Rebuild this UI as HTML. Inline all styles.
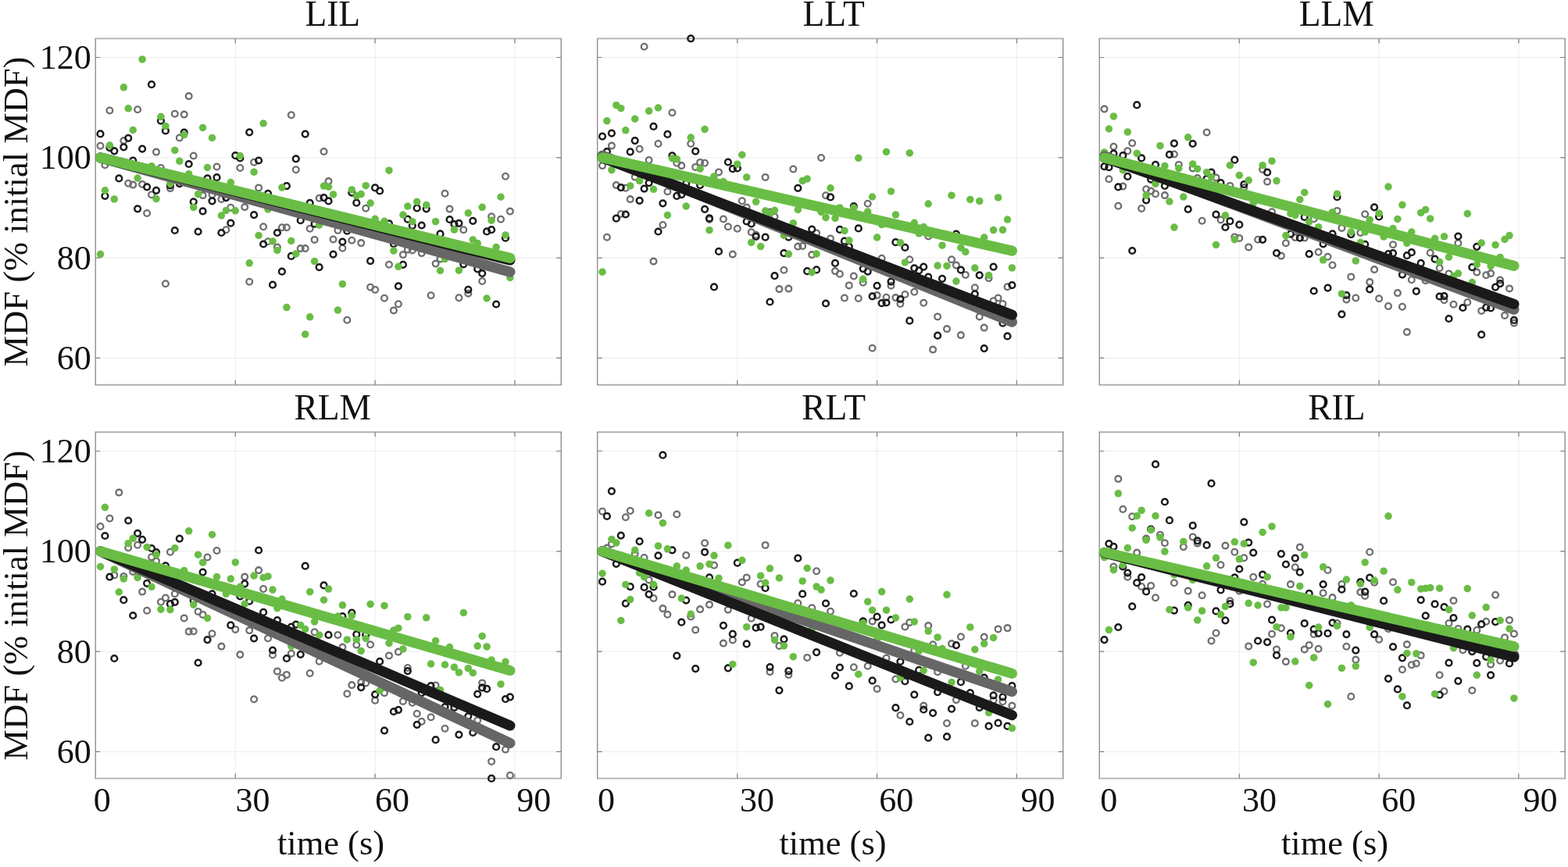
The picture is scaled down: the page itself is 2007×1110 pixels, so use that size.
<!DOCTYPE html>
<html lang="en"><head><meta charset="utf-8"><title>MDF vs time</title>
<style>html,body{margin:0;padding:0;background:#fff;overflow:hidden}svg{display:block}text{font-family:"Liberation Serif", serif;fill:#111}.t{font-size:44px}.l{font-size:44.5px}.h{font-size:45.5px}.axh{fill:none;stroke:#b0b0b0;stroke-width:1.9}.axv{fill:none;stroke:#7e7e7e;stroke-width:1.2}.g{stroke:#ececec;stroke-width:1}.k{stroke:#7e7e7e;stroke-width:1.2}.o1{fill:none;stroke:#1a1a1a;stroke-width:2.5}.o2{fill:none;stroke:#6e6e6e;stroke-width:2.3}.d{fill:#69bd45}.ln{fill:none;stroke-width:13.2;stroke-linecap:round}</style></head><body>
<svg width="2007" height="1110" viewBox="0 0 2007 1110">
<rect width="2007" height="1110" fill="#fff"/>
<g transform="translate(122.2,49.4)">
<path class="g" d="M179.1 0V443.3M357.9 0V443.3M536.7 0V443.3M0 24.1H596M0 152.4H596M0 280.7H596M0 409H596"/>
<path class="axh" d="M-0.7 0H596.7M-0.7 443.3H596.7"/>
<path class="axv" d="M0 0V443.3M596 0V443.3"/>
<path class="k" d="M179.1 0v6M179.1 443.3v-6M357.9 0v6M357.9 443.3v-6M536.7 0v6M536.7 443.3v-6M0 24.1h6M596 24.1h-6M0 152.4h6M596 152.4h-6M0 280.7h6M596 280.7h-6M0 409h6M596 409h-6"/>
<g class="o2">
<circle cx="6.3" cy="137.4" r="3.85"/>
<circle cx="12.2" cy="161.8" r="3.85"/>
<circle cx="18.2" cy="92.1" r="3.85"/>
<circle cx="36.1" cy="130.7" r="3.85"/>
<circle cx="42" cy="185.3" r="3.85"/>
<circle cx="48" cy="187.2" r="3.85"/>
<circle cx="53.9" cy="90.8" r="3.85"/>
<circle cx="59.9" cy="186.5" r="3.85"/>
<circle cx="65.9" cy="223.6" r="3.85"/>
<circle cx="71.8" cy="199.9" r="3.85"/>
<circle cx="77.8" cy="145.2" r="3.85"/>
<circle cx="83.7" cy="165.6" r="3.85"/>
<circle cx="89.7" cy="313.8" r="3.85"/>
<circle cx="95.7" cy="191.7" r="3.85"/>
<circle cx="101.6" cy="96.3" r="3.85"/>
<circle cx="107.6" cy="127.1" r="3.85"/>
<circle cx="113.5" cy="97.2" r="3.85"/>
<circle cx="119.5" cy="73.7" r="3.85"/>
<circle cx="125.5" cy="150.1" r="3.85"/>
<circle cx="137.4" cy="200.7" r="3.85"/>
<circle cx="149.3" cy="199.9" r="3.85"/>
<circle cx="155.3" cy="164.1" r="3.85"/>
<circle cx="161.2" cy="205.6" r="3.85"/>
<circle cx="167.2" cy="244.8" r="3.85"/>
<circle cx="173.1" cy="216.4" r="3.85"/>
<circle cx="185.1" cy="165.6" r="3.85"/>
<circle cx="191" cy="215.7" r="3.85"/>
<circle cx="197" cy="311.3" r="3.85"/>
<circle cx="202.9" cy="158.4" r="3.85"/>
<circle cx="208.9" cy="191" r="3.85"/>
<circle cx="214.9" cy="240.8" r="3.85"/>
<circle cx="220.8" cy="259.8" r="3.85"/>
<circle cx="232.7" cy="267.2" r="3.85"/>
<circle cx="238.7" cy="241.8" r="3.85"/>
<circle cx="244.7" cy="241.8" r="3.85"/>
<circle cx="250.6" cy="97.8" r="3.85"/>
<circle cx="256.6" cy="167.8" r="3.85"/>
<circle cx="262.5" cy="268.7" r="3.85"/>
<circle cx="268.5" cy="268.7" r="3.85"/>
<circle cx="274.5" cy="243.3" r="3.85"/>
<circle cx="280.4" cy="257.5" r="3.85"/>
<circle cx="286.4" cy="204.4" r="3.85"/>
<circle cx="292.3" cy="144.6" r="3.85"/>
<circle cx="298.3" cy="182.7" r="3.85"/>
<circle cx="304.3" cy="257.1" r="3.85"/>
<circle cx="310.2" cy="245.6" r="3.85"/>
<circle cx="316.2" cy="268.3" r="3.85"/>
<circle cx="322.1" cy="360.3" r="3.85"/>
<circle cx="328.1" cy="258.3" r="3.85"/>
<circle cx="340" cy="261.7" r="3.85"/>
<circle cx="346" cy="217.4" r="3.85"/>
<circle cx="351.9" cy="318.4" r="3.85"/>
<circle cx="357.9" cy="321.5" r="3.85"/>
<circle cx="369.8" cy="332.3" r="3.85"/>
<circle cx="375.8" cy="289.4" r="3.85"/>
<circle cx="381.7" cy="348" r="3.85"/>
<circle cx="387.7" cy="339.8" r="3.85"/>
<circle cx="393.7" cy="276.7" r="3.85"/>
<circle cx="399.6" cy="270.2" r="3.85"/>
<circle cx="405.6" cy="271" r="3.85"/>
<circle cx="417.5" cy="274.7" r="3.85"/>
<circle cx="429.4" cy="328.9" r="3.85"/>
<circle cx="435.4" cy="288.2" r="3.85"/>
<circle cx="441.3" cy="282.2" r="3.85"/>
<circle cx="447.3" cy="198.4" r="3.85"/>
<circle cx="453.3" cy="218.2" r="3.85"/>
<circle cx="465.2" cy="331.8" r="3.85"/>
<circle cx="471.1" cy="244.8" r="3.85"/>
<circle cx="477.1" cy="326.3" r="3.85"/>
<circle cx="495" cy="310.6" r="3.85"/>
<circle cx="506.9" cy="227.9" r="3.85"/>
<circle cx="518.8" cy="231.3" r="3.85"/>
<circle cx="524.8" cy="176.3" r="3.85"/>
<circle cx="530.7" cy="221.2" r="3.85"/>
</g>
<g class="o1">
<circle cx="6.3" cy="122" r="3.85"/>
<circle cx="12.2" cy="201.4" r="3.85"/>
<circle cx="18.2" cy="139.7" r="3.85"/>
<circle cx="24.1" cy="143.9" r="3.85"/>
<circle cx="30.1" cy="179" r="3.85"/>
<circle cx="36.1" cy="138.9" r="3.85"/>
<circle cx="42" cy="127.4" r="3.85"/>
<circle cx="48" cy="156.1" r="3.85"/>
<circle cx="53.9" cy="217.9" r="3.85"/>
<circle cx="59.9" cy="141.2" r="3.85"/>
<circle cx="65.9" cy="189.9" r="3.85"/>
<circle cx="71.8" cy="58.8" r="3.85"/>
<circle cx="77.8" cy="194.4" r="3.85"/>
<circle cx="83.7" cy="105.3" r="3.85"/>
<circle cx="89.7" cy="118" r="3.85"/>
<circle cx="95.7" cy="188" r="3.85"/>
<circle cx="101.6" cy="245.6" r="3.85"/>
<circle cx="107.6" cy="185.7" r="3.85"/>
<circle cx="113.5" cy="120.2" r="3.85"/>
<circle cx="119.5" cy="160.6" r="3.85"/>
<circle cx="125.5" cy="208.9" r="3.85"/>
<circle cx="131.4" cy="247.1" r="3.85"/>
<circle cx="137.4" cy="220.9" r="3.85"/>
<circle cx="143.3" cy="179" r="3.85"/>
<circle cx="149.3" cy="207.9" r="3.85"/>
<circle cx="155.3" cy="177.8" r="3.85"/>
<circle cx="161.2" cy="248.6" r="3.85"/>
<circle cx="167.2" cy="203.7" r="3.85"/>
<circle cx="173.1" cy="236.3" r="3.85"/>
<circle cx="179.1" cy="149.8" r="3.85"/>
<circle cx="185.1" cy="153.1" r="3.85"/>
<circle cx="197" cy="119.9" r="3.85"/>
<circle cx="202.9" cy="225.7" r="3.85"/>
<circle cx="208.9" cy="156.1" r="3.85"/>
<circle cx="214.9" cy="263.1" r="3.85"/>
<circle cx="220.8" cy="198.5" r="3.85"/>
<circle cx="226.8" cy="315.3" r="3.85"/>
<circle cx="232.7" cy="248.6" r="3.85"/>
<circle cx="238.7" cy="298.3" r="3.85"/>
<circle cx="244.7" cy="188.7" r="3.85"/>
<circle cx="250.6" cy="278.5" r="3.85"/>
<circle cx="256.6" cy="153.9" r="3.85"/>
<circle cx="262.5" cy="232.8" r="3.85"/>
<circle cx="268.5" cy="122.2" r="3.85"/>
<circle cx="274.5" cy="210.4" r="3.85"/>
<circle cx="280.4" cy="237.3" r="3.85"/>
<circle cx="286.4" cy="292.7" r="3.85"/>
<circle cx="292.3" cy="203.7" r="3.85"/>
<circle cx="298.3" cy="208" r="3.85"/>
<circle cx="304.3" cy="276.2" r="3.85"/>
<circle cx="316.2" cy="260.1" r="3.85"/>
<circle cx="322.1" cy="246.3" r="3.85"/>
<circle cx="328.1" cy="197.2" r="3.85"/>
<circle cx="334.1" cy="210.3" r="3.85"/>
<circle cx="351.9" cy="284.7" r="3.85"/>
<circle cx="357.9" cy="191" r="3.85"/>
<circle cx="363.9" cy="195" r="3.85"/>
<circle cx="375.8" cy="236.9" r="3.85"/>
<circle cx="381.7" cy="262.8" r="3.85"/>
<circle cx="387.7" cy="316.9" r="3.85"/>
<circle cx="393.7" cy="289.4" r="3.85"/>
<circle cx="399.6" cy="231.3" r="3.85"/>
<circle cx="405.6" cy="239.6" r="3.85"/>
<circle cx="411.5" cy="217" r="3.85"/>
<circle cx="417.5" cy="239.1" r="3.85"/>
<circle cx="423.5" cy="217.9" r="3.85"/>
<circle cx="441.3" cy="250" r="3.85"/>
<circle cx="453.3" cy="231.6" r="3.85"/>
<circle cx="459.2" cy="237.6" r="3.85"/>
<circle cx="465.2" cy="236.4" r="3.85"/>
<circle cx="471.1" cy="288.9" r="3.85"/>
<circle cx="477.1" cy="321.4" r="3.85"/>
<circle cx="483.1" cy="233.4" r="3.85"/>
<circle cx="489" cy="294.9" r="3.85"/>
<circle cx="495" cy="300.6" r="3.85"/>
<circle cx="500.9" cy="247" r="3.85"/>
<circle cx="506.9" cy="244.8" r="3.85"/>
<circle cx="512.9" cy="340.1" r="3.85"/>
<circle cx="524.8" cy="255.3" r="3.85"/>
</g>
<g class="d">
<circle cx="6.3" cy="276.2" r="4.75"/>
<circle cx="12.2" cy="194.4" r="4.75"/>
<circle cx="18.2" cy="136.7" r="4.75"/>
<circle cx="24.1" cy="205.5" r="4.75"/>
<circle cx="36.1" cy="62.4" r="4.75"/>
<circle cx="42" cy="89.4" r="4.75"/>
<circle cx="48" cy="117.1" r="4.75"/>
<circle cx="53.9" cy="178.6" r="4.75"/>
<circle cx="59.9" cy="26.5" r="4.75"/>
<circle cx="71.8" cy="163.3" r="4.75"/>
<circle cx="77.8" cy="205.2" r="4.75"/>
<circle cx="83.7" cy="100" r="4.75"/>
<circle cx="89.7" cy="112" r="4.75"/>
<circle cx="95.7" cy="185.7" r="4.75"/>
<circle cx="101.6" cy="143" r="4.75"/>
<circle cx="107.6" cy="156.9" r="4.75"/>
<circle cx="113.5" cy="123.2" r="4.75"/>
<circle cx="119.5" cy="173.3" r="4.75"/>
<circle cx="125.5" cy="216" r="4.75"/>
<circle cx="131.4" cy="199.2" r="4.75"/>
<circle cx="137.4" cy="114" r="4.75"/>
<circle cx="143.3" cy="165.1" r="4.75"/>
<circle cx="149.3" cy="127.1" r="4.75"/>
<circle cx="161.2" cy="226.6" r="4.75"/>
<circle cx="167.2" cy="220.1" r="4.75"/>
<circle cx="173.1" cy="184.2" r="4.75"/>
<circle cx="179.1" cy="220.4" r="4.75"/>
<circle cx="185.1" cy="150.1" r="4.75"/>
<circle cx="197" cy="287.4" r="4.75"/>
<circle cx="202.9" cy="170.8" r="4.75"/>
<circle cx="208.9" cy="252" r="4.75"/>
<circle cx="214.9" cy="108.6" r="4.75"/>
<circle cx="220.8" cy="218.6" r="4.75"/>
<circle cx="226.8" cy="259.5" r="4.75"/>
<circle cx="232.7" cy="271" r="4.75"/>
<circle cx="238.7" cy="190.7" r="4.75"/>
<circle cx="244.7" cy="344.2" r="4.75"/>
<circle cx="250.6" cy="259" r="4.75"/>
<circle cx="256.6" cy="275.5" r="4.75"/>
<circle cx="268.5" cy="378.6" r="4.75"/>
<circle cx="274.5" cy="356.4" r="4.75"/>
<circle cx="280.4" cy="285.2" r="4.75"/>
<circle cx="286.4" cy="238.8" r="4.75"/>
<circle cx="292.3" cy="188.7" r="4.75"/>
<circle cx="298.3" cy="189.8" r="4.75"/>
<circle cx="304.3" cy="199.5" r="4.75"/>
<circle cx="310.2" cy="347.7" r="4.75"/>
<circle cx="316.2" cy="314.3" r="4.75"/>
<circle cx="328.1" cy="193.5" r="4.75"/>
<circle cx="334.1" cy="201.4" r="4.75"/>
<circle cx="340" cy="199.2" r="4.75"/>
<circle cx="346" cy="188.3" r="4.75"/>
<circle cx="351.9" cy="210.7" r="4.75"/>
<circle cx="357.9" cy="230.9" r="4.75"/>
<circle cx="369.8" cy="233.9" r="4.75"/>
<circle cx="375.8" cy="168.8" r="4.75"/>
<circle cx="381.7" cy="271.7" r="4.75"/>
<circle cx="387.7" cy="291.9" r="4.75"/>
<circle cx="393.7" cy="225.7" r="4.75"/>
<circle cx="399.6" cy="214.7" r="4.75"/>
<circle cx="405.6" cy="234.3" r="4.75"/>
<circle cx="411.5" cy="208.9" r="4.75"/>
<circle cx="423.5" cy="213.2" r="4.75"/>
<circle cx="435.4" cy="234.3" r="4.75"/>
<circle cx="441.3" cy="297.1" r="4.75"/>
<circle cx="447.3" cy="282.2" r="4.75"/>
<circle cx="459.2" cy="244.8" r="4.75"/>
<circle cx="465.2" cy="296.8" r="4.75"/>
<circle cx="477.1" cy="223.4" r="4.75"/>
<circle cx="483.1" cy="257.5" r="4.75"/>
<circle cx="489" cy="262" r="4.75"/>
<circle cx="495" cy="215.9" r="4.75"/>
<circle cx="500.9" cy="332.6" r="4.75"/>
<circle cx="506.9" cy="232.8" r="4.75"/>
<circle cx="512.9" cy="267.2" r="4.75"/>
<circle cx="518.8" cy="202.8" r="4.75"/>
<circle cx="524.8" cy="251.5" r="4.75"/>
<circle cx="530.7" cy="306.1" r="4.75"/>
</g>
<path class="ln" stroke="#666666" d="M6.3 152.4L530.7 298.7"/>
<path class="ln" stroke="#1a1a1a" d="M6.3 152.4L530.7 283.6"/>
<path class="ln" stroke="#69bd45" d="M6.3 152.4L530.7 281"/>
<text class="h" x="303.6" y="-16.9" text-anchor="middle">LIL</text>
<text class="t" x="-5.5" y="38.7" text-anchor="end">120</text>
<text class="t" x="-5.5" y="167" text-anchor="end">100</text>
<text class="t" x="-5.5" y="295.3" text-anchor="end">80</text>
<text class="t" x="-5.5" y="423.6" text-anchor="end">60</text>
<text class="l" transform="translate(-86.9,221.6) rotate(-90)" text-anchor="middle">MDF (% initial MDF)</text>
</g>
<g transform="translate(764.7,49.4)">
<path class="g" d="M179.1 0V443.3M357.9 0V443.3M536.7 0V443.3M0 24.1H596M0 152.4H596M0 280.7H596M0 409H596"/>
<path class="axh" d="M-0.7 0H596.7M-0.7 443.3H596.7"/>
<path class="axv" d="M0 0V443.3M596 0V443.3"/>
<path class="k" d="M179.1 0v6M179.1 443.3v-6M357.9 0v6M357.9 443.3v-6M536.7 0v6M536.7 443.3v-6M0 24.1h6M596 24.1h-6M0 152.4h6M596 152.4h-6M0 280.7h6M596 280.7h-6M0 409h6M596 409h-6"/>
<g class="o2">
<circle cx="6.3" cy="162.7" r="3.85"/>
<circle cx="12.2" cy="254.3" r="3.85"/>
<circle cx="18.2" cy="137.2" r="3.85"/>
<circle cx="24.1" cy="187.7" r="3.85"/>
<circle cx="30.1" cy="224.6" r="3.85"/>
<circle cx="36.1" cy="191.4" r="3.85"/>
<circle cx="42" cy="205.7" r="3.85"/>
<circle cx="48" cy="177.2" r="3.85"/>
<circle cx="53.9" cy="141.3" r="3.85"/>
<circle cx="59.9" cy="10.3" r="3.85"/>
<circle cx="65.9" cy="155.6" r="3.85"/>
<circle cx="71.8" cy="285.2" r="3.85"/>
<circle cx="77.8" cy="134.6" r="3.85"/>
<circle cx="83.7" cy="238.6" r="3.85"/>
<circle cx="89.7" cy="195.9" r="3.85"/>
<circle cx="95.7" cy="94.8" r="3.85"/>
<circle cx="101.6" cy="159.3" r="3.85"/>
<circle cx="107.6" cy="162.7" r="3.85"/>
<circle cx="119.5" cy="134.6" r="3.85"/>
<circle cx="125.5" cy="164.5" r="3.85"/>
<circle cx="131.4" cy="158.5" r="3.85"/>
<circle cx="137.4" cy="159.3" r="3.85"/>
<circle cx="143.3" cy="231.5" r="3.85"/>
<circle cx="155.3" cy="171" r="3.85"/>
<circle cx="161.2" cy="231.1" r="3.85"/>
<circle cx="167.2" cy="240.8" r="3.85"/>
<circle cx="173.1" cy="276.2" r="3.85"/>
<circle cx="179.1" cy="243.3" r="3.85"/>
<circle cx="185.1" cy="207.9" r="3.85"/>
<circle cx="191" cy="216.1" r="3.85"/>
<circle cx="197" cy="247.8" r="3.85"/>
<circle cx="202.9" cy="251.3" r="3.85"/>
<circle cx="214.9" cy="177.5" r="3.85"/>
<circle cx="220.8" cy="222.1" r="3.85"/>
<circle cx="226.8" cy="228.1" r="3.85"/>
<circle cx="232.7" cy="320.7" r="3.85"/>
<circle cx="238.7" cy="296.3" r="3.85"/>
<circle cx="244.7" cy="320.2" r="3.85"/>
<circle cx="250.6" cy="167.1" r="3.85"/>
<circle cx="256.6" cy="266.2" r="3.85"/>
<circle cx="262.5" cy="265.5" r="3.85"/>
<circle cx="274.5" cy="276.7" r="3.85"/>
<circle cx="280.4" cy="249" r="3.85"/>
<circle cx="286.4" cy="152.6" r="3.85"/>
<circle cx="292.3" cy="200.8" r="3.85"/>
<circle cx="298.3" cy="256.1" r="3.85"/>
<circle cx="304.3" cy="297.7" r="3.85"/>
<circle cx="310.2" cy="301.4" r="3.85"/>
<circle cx="316.2" cy="332.1" r="3.85"/>
<circle cx="322.1" cy="316" r="3.85"/>
<circle cx="328.1" cy="304.1" r="3.85"/>
<circle cx="334.1" cy="332.6" r="3.85"/>
<circle cx="340" cy="312.4" r="3.85"/>
<circle cx="346" cy="211.3" r="3.85"/>
<circle cx="351.9" cy="396.4" r="3.85"/>
<circle cx="357.9" cy="328.7" r="3.85"/>
<circle cx="363.9" cy="281.3" r="3.85"/>
<circle cx="369.8" cy="331.4" r="3.85"/>
<circle cx="375.8" cy="316.4" r="3.85"/>
<circle cx="381.7" cy="331.7" r="3.85"/>
<circle cx="387.7" cy="339.6" r="3.85"/>
<circle cx="393.7" cy="327.6" r="3.85"/>
<circle cx="399.6" cy="282.8" r="3.85"/>
<circle cx="405.6" cy="324.3" r="3.85"/>
<circle cx="417.5" cy="338.4" r="3.85"/>
<circle cx="423.5" cy="253.1" r="3.85"/>
<circle cx="429.4" cy="398.2" r="3.85"/>
<circle cx="435.4" cy="356" r="3.85"/>
<circle cx="447.3" cy="371.7" r="3.85"/>
<circle cx="453.3" cy="282.8" r="3.85"/>
<circle cx="459.2" cy="290.2" r="3.85"/>
<circle cx="465.2" cy="379.7" r="3.85"/>
<circle cx="471.1" cy="302.5" r="3.85"/>
<circle cx="483.1" cy="318.9" r="3.85"/>
<circle cx="489" cy="356" r="3.85"/>
<circle cx="495" cy="370.2" r="3.85"/>
<circle cx="500.9" cy="306.7" r="3.85"/>
<circle cx="506.9" cy="335.8" r="3.85"/>
<circle cx="512.9" cy="332.1" r="3.85"/>
<circle cx="518.8" cy="339.6" r="3.85"/>
<circle cx="524.8" cy="317.9" r="3.85"/>
</g>
<g class="o1">
<circle cx="6.3" cy="125.2" r="3.85"/>
<circle cx="12.2" cy="144.6" r="3.85"/>
<circle cx="18.2" cy="121.2" r="3.85"/>
<circle cx="24.1" cy="230.3" r="3.85"/>
<circle cx="30.1" cy="190.7" r="3.85"/>
<circle cx="36.1" cy="225.1" r="3.85"/>
<circle cx="42" cy="144.9" r="3.85"/>
<circle cx="48" cy="130.7" r="3.85"/>
<circle cx="53.9" cy="207.4" r="3.85"/>
<circle cx="59.9" cy="192.2" r="3.85"/>
<circle cx="65.9" cy="184.7" r="3.85"/>
<circle cx="71.8" cy="112.5" r="3.85"/>
<circle cx="77.8" cy="247.1" r="3.85"/>
<circle cx="83.7" cy="210.9" r="3.85"/>
<circle cx="89.7" cy="122.5" r="3.85"/>
<circle cx="95.7" cy="149.9" r="3.85"/>
<circle cx="101.6" cy="201.5" r="3.85"/>
<circle cx="107.6" cy="199.7" r="3.85"/>
<circle cx="113.5" cy="185.5" r="3.85"/>
<circle cx="119.5" cy="-0.1" r="3.85"/>
<circle cx="125.5" cy="144.2" r="3.85"/>
<circle cx="131.4" cy="187.7" r="3.85"/>
<circle cx="137.4" cy="218.4" r="3.85"/>
<circle cx="143.3" cy="230" r="3.85"/>
<circle cx="149.3" cy="318" r="3.85"/>
<circle cx="155.3" cy="272.5" r="3.85"/>
<circle cx="167.2" cy="158.1" r="3.85"/>
<circle cx="173.1" cy="166.8" r="3.85"/>
<circle cx="179.1" cy="166" r="3.85"/>
<circle cx="191" cy="234.1" r="3.85"/>
<circle cx="197" cy="237.1" r="3.85"/>
<circle cx="202.9" cy="253.5" r="3.85"/>
<circle cx="214.9" cy="254.3" r="3.85"/>
<circle cx="220.8" cy="337.1" r="3.85"/>
<circle cx="226.8" cy="303.8" r="3.85"/>
<circle cx="238.7" cy="274.7" r="3.85"/>
<circle cx="244.7" cy="254.3" r="3.85"/>
<circle cx="256.6" cy="191.4" r="3.85"/>
<circle cx="268.5" cy="297.8" r="3.85"/>
<circle cx="274.5" cy="244.2" r="3.85"/>
<circle cx="280.4" cy="296" r="3.85"/>
<circle cx="292.3" cy="339.1" r="3.85"/>
<circle cx="298.3" cy="203" r="3.85"/>
<circle cx="304.3" cy="287.5" r="3.85"/>
<circle cx="310.2" cy="244.5" r="3.85"/>
<circle cx="316.2" cy="259.3" r="3.85"/>
<circle cx="322.1" cy="266.3" r="3.85"/>
<circle cx="328.1" cy="214.6" r="3.85"/>
<circle cx="334.1" cy="243" r="3.85"/>
<circle cx="340" cy="294.7" r="3.85"/>
<circle cx="346" cy="298.2" r="3.85"/>
<circle cx="351.9" cy="329.9" r="3.85"/>
<circle cx="357.9" cy="316.4" r="3.85"/>
<circle cx="363.9" cy="338.8" r="3.85"/>
<circle cx="369.8" cy="338.1" r="3.85"/>
<circle cx="375.8" cy="311.2" r="3.85"/>
<circle cx="381.7" cy="260.8" r="3.85"/>
<circle cx="387.7" cy="333.6" r="3.85"/>
<circle cx="393.7" cy="267.5" r="3.85"/>
<circle cx="399.6" cy="361.3" r="3.85"/>
<circle cx="405.6" cy="294" r="3.85"/>
<circle cx="411.5" cy="297" r="3.85"/>
<circle cx="417.5" cy="292.2" r="3.85"/>
<circle cx="423.5" cy="305.2" r="3.85"/>
<circle cx="435.4" cy="380.3" r="3.85"/>
<circle cx="441.3" cy="307.4" r="3.85"/>
<circle cx="459.2" cy="250.1" r="3.85"/>
<circle cx="465.2" cy="296.2" r="3.85"/>
<circle cx="483.1" cy="326.9" r="3.85"/>
<circle cx="489" cy="302.9" r="3.85"/>
<circle cx="495" cy="396.7" r="3.85"/>
<circle cx="506.9" cy="292.2" r="3.85"/>
<circle cx="518.8" cy="364.3" r="3.85"/>
<circle cx="524.8" cy="381" r="3.85"/>
<circle cx="530.7" cy="315.7" r="3.85"/>
</g>
<g class="d">
<circle cx="6.3" cy="298.8" r="4.75"/>
<circle cx="12.2" cy="105.4" r="4.75"/>
<circle cx="18.2" cy="168.3" r="4.75"/>
<circle cx="24.1" cy="85.3" r="4.75"/>
<circle cx="30.1" cy="89.3" r="4.75"/>
<circle cx="36.1" cy="117.4" r="4.75"/>
<circle cx="42" cy="188.5" r="4.75"/>
<circle cx="48" cy="102.8" r="4.75"/>
<circle cx="53.9" cy="182.2" r="4.75"/>
<circle cx="65.9" cy="92.7" r="4.75"/>
<circle cx="71.8" cy="192.9" r="4.75"/>
<circle cx="77.8" cy="88.6" r="4.75"/>
<circle cx="89.7" cy="226.1" r="4.75"/>
<circle cx="95.7" cy="153.3" r="4.75"/>
<circle cx="101.6" cy="154.4" r="4.75"/>
<circle cx="113.5" cy="214.6" r="4.75"/>
<circle cx="119.5" cy="126.7" r="4.75"/>
<circle cx="131.4" cy="166.8" r="4.75"/>
<circle cx="137.4" cy="116.2" r="4.75"/>
<circle cx="143.3" cy="245.3" r="4.75"/>
<circle cx="149.3" cy="176.5" r="4.75"/>
<circle cx="161.2" cy="183.2" r="4.75"/>
<circle cx="179.1" cy="160.8" r="4.75"/>
<circle cx="185.1" cy="148.8" r="4.75"/>
<circle cx="191" cy="177.5" r="4.75"/>
<circle cx="197" cy="261" r="4.75"/>
<circle cx="202.9" cy="208.9" r="4.75"/>
<circle cx="208.9" cy="266.2" r="4.75"/>
<circle cx="214.9" cy="220.6" r="4.75"/>
<circle cx="220.8" cy="224.3" r="4.75"/>
<circle cx="226.8" cy="219.9" r="4.75"/>
<circle cx="238.7" cy="252" r="4.75"/>
<circle cx="244.7" cy="275.9" r="4.75"/>
<circle cx="250.6" cy="236.3" r="4.75"/>
<circle cx="256.6" cy="219.1" r="4.75"/>
<circle cx="262.5" cy="182.2" r="4.75"/>
<circle cx="268.5" cy="179.5" r="4.75"/>
<circle cx="274.5" cy="299.3" r="4.75"/>
<circle cx="280.4" cy="275.6" r="4.75"/>
<circle cx="286.4" cy="222.1" r="4.75"/>
<circle cx="292.3" cy="229.2" r="4.75"/>
<circle cx="298.3" cy="191.4" r="4.75"/>
<circle cx="304.3" cy="230" r="4.75"/>
<circle cx="310.2" cy="216.5" r="4.75"/>
<circle cx="316.2" cy="246" r="4.75"/>
<circle cx="322.1" cy="258.4" r="4.75"/>
<circle cx="328.1" cy="216.5" r="4.75"/>
<circle cx="334.1" cy="152.9" r="4.75"/>
<circle cx="340" cy="307.9" r="4.75"/>
<circle cx="346" cy="221.7" r="4.75"/>
<circle cx="351.9" cy="202.6" r="4.75"/>
<circle cx="357.9" cy="254.6" r="4.75"/>
<circle cx="363.9" cy="238.2" r="4.75"/>
<circle cx="369.8" cy="145" r="4.75"/>
<circle cx="375.8" cy="195.6" r="4.75"/>
<circle cx="381.7" cy="225.5" r="4.75"/>
<circle cx="387.7" cy="261.4" r="4.75"/>
<circle cx="393.7" cy="286.5" r="4.75"/>
<circle cx="399.6" cy="146.5" r="4.75"/>
<circle cx="405.6" cy="235.9" r="4.75"/>
<circle cx="411.5" cy="249.4" r="4.75"/>
<circle cx="417.5" cy="241.2" r="4.75"/>
<circle cx="423.5" cy="211.6" r="4.75"/>
<circle cx="435.4" cy="290.7" r="4.75"/>
<circle cx="441.3" cy="264.8" r="4.75"/>
<circle cx="447.3" cy="291" r="4.75"/>
<circle cx="453.3" cy="200.8" r="4.75"/>
<circle cx="459.2" cy="310.7" r="4.75"/>
<circle cx="465.2" cy="267.8" r="4.75"/>
<circle cx="471.1" cy="273" r="4.75"/>
<circle cx="477.1" cy="206" r="4.75"/>
<circle cx="483.1" cy="293.7" r="4.75"/>
<circle cx="489" cy="208" r="4.75"/>
<circle cx="495" cy="254.6" r="4.75"/>
<circle cx="500.9" cy="303.2" r="4.75"/>
<circle cx="506.9" cy="245.2" r="4.75"/>
<circle cx="512.9" cy="203.5" r="4.75"/>
<circle cx="518.8" cy="244.9" r="4.75"/>
<circle cx="524.8" cy="231.7" r="4.75"/>
<circle cx="530.7" cy="293.5" r="4.75"/>
</g>
<path class="ln" stroke="#666666" d="M6.3 149.8L530.7 362.8"/>
<path class="ln" stroke="#1a1a1a" d="M6.3 152.4L530.7 353.8"/>
<path class="ln" stroke="#69bd45" d="M6.3 152.4L530.7 271.7"/>
<text class="h" x="302.4" y="-16.9" text-anchor="middle">LLT</text>
</g>
<g transform="translate(1407.2,49.4)">
<path class="g" d="M179.1 0V443.3M357.9 0V443.3M536.7 0V443.3M0 24.1H596M0 152.4H596M0 280.7H596M0 409H596"/>
<path class="axh" d="M-0.7 0H596.7M-0.7 443.3H596.7"/>
<path class="axv" d="M0 0V443.3M596 0V443.3"/>
<path class="k" d="M179.1 0v6M179.1 443.3v-6M357.9 0v6M357.9 443.3v-6M536.7 0v6M536.7 443.3v-6M0 24.1h6M596 24.1h-6M0 152.4h6M596 152.4h-6M0 280.7h6M596 280.7h-6M0 409h6M596 409h-6"/>
<g class="o2">
<circle cx="6.3" cy="90.2" r="3.85"/>
<circle cx="12.2" cy="179.8" r="3.85"/>
<circle cx="18.2" cy="138.4" r="3.85"/>
<circle cx="24.1" cy="214.3" r="3.85"/>
<circle cx="30.1" cy="189.2" r="3.85"/>
<circle cx="36.1" cy="143.9" r="3.85"/>
<circle cx="42" cy="133.9" r="3.85"/>
<circle cx="53.9" cy="217.6" r="3.85"/>
<circle cx="59.9" cy="192.9" r="3.85"/>
<circle cx="65.9" cy="195.2" r="3.85"/>
<circle cx="71.8" cy="198.9" r="3.85"/>
<circle cx="83.7" cy="200.7" r="3.85"/>
<circle cx="95.7" cy="148.1" r="3.85"/>
<circle cx="101.6" cy="161.5" r="3.85"/>
<circle cx="119.5" cy="166" r="3.85"/>
<circle cx="125.5" cy="178.7" r="3.85"/>
<circle cx="131.4" cy="233.3" r="3.85"/>
<circle cx="137.4" cy="120.1" r="3.85"/>
<circle cx="149.3" cy="178" r="3.85"/>
<circle cx="155.3" cy="232" r="3.85"/>
<circle cx="167.2" cy="188.5" r="3.85"/>
<circle cx="173.1" cy="254" r="3.85"/>
<circle cx="179.1" cy="255.5" r="3.85"/>
<circle cx="185.1" cy="190.7" r="3.85"/>
<circle cx="191" cy="267" r="3.85"/>
<circle cx="202.9" cy="257.3" r="3.85"/>
<circle cx="208.9" cy="167.5" r="3.85"/>
<circle cx="214.9" cy="183.2" r="3.85"/>
<circle cx="220.8" cy="221.8" r="3.85"/>
<circle cx="232.7" cy="278.2" r="3.85"/>
<circle cx="238.7" cy="261.9" r="3.85"/>
<circle cx="250.6" cy="254.7" r="3.85"/>
<circle cx="262.5" cy="255.2" r="3.85"/>
<circle cx="274.5" cy="230.8" r="3.85"/>
<circle cx="280.4" cy="273.4" r="3.85"/>
<circle cx="292.3" cy="279.3" r="3.85"/>
<circle cx="298.3" cy="290.1" r="3.85"/>
<circle cx="304.3" cy="220.5" r="3.85"/>
<circle cx="310.2" cy="242.5" r="3.85"/>
<circle cx="316.2" cy="334.2" r="3.85"/>
<circle cx="322.1" cy="305" r="3.85"/>
<circle cx="328.1" cy="332.1" r="3.85"/>
<circle cx="334.1" cy="248.5" r="3.85"/>
<circle cx="340" cy="224.8" r="3.85"/>
<circle cx="346" cy="311.7" r="3.85"/>
<circle cx="351.9" cy="295.7" r="3.85"/>
<circle cx="357.9" cy="332.8" r="3.85"/>
<circle cx="369.8" cy="342.6" r="3.85"/>
<circle cx="375.8" cy="263.9" r="3.85"/>
<circle cx="381.7" cy="325.7" r="3.85"/>
<circle cx="387.7" cy="343.3" r="3.85"/>
<circle cx="393.7" cy="375.7" r="3.85"/>
<circle cx="399.6" cy="308.8" r="3.85"/>
<circle cx="417.5" cy="309.9" r="3.85"/>
<circle cx="423.5" cy="274.4" r="3.85"/>
<circle cx="435.4" cy="293.8" r="3.85"/>
<circle cx="441.3" cy="334.9" r="3.85"/>
<circle cx="447.3" cy="301" r="3.85"/>
<circle cx="453.3" cy="340.3" r="3.85"/>
<circle cx="459.2" cy="261.9" r="3.85"/>
<circle cx="471.1" cy="337.6" r="3.85"/>
<circle cx="483.1" cy="299.2" r="3.85"/>
<circle cx="489" cy="348.5" r="3.85"/>
<circle cx="495" cy="302.9" r="3.85"/>
<circle cx="500.9" cy="300.7" r="3.85"/>
<circle cx="512.9" cy="309.2" r="3.85"/>
<circle cx="518.8" cy="354.5" r="3.85"/>
<circle cx="524.8" cy="320" r="3.85"/>
<circle cx="530.7" cy="364.2" r="3.85"/>
</g>
<g class="o1">
<circle cx="6.3" cy="163.8" r="3.85"/>
<circle cx="12.2" cy="164.8" r="3.85"/>
<circle cx="18.2" cy="147.3" r="3.85"/>
<circle cx="24.1" cy="190" r="3.85"/>
<circle cx="30.1" cy="149.6" r="3.85"/>
<circle cx="36.1" cy="176.5" r="3.85"/>
<circle cx="42" cy="271.6" r="3.85"/>
<circle cx="48" cy="85" r="3.85"/>
<circle cx="53.9" cy="153" r="3.85"/>
<circle cx="59.9" cy="206.9" r="3.85"/>
<circle cx="65.9" cy="180.2" r="3.85"/>
<circle cx="71.8" cy="161.5" r="3.85"/>
<circle cx="83.7" cy="188.5" r="3.85"/>
<circle cx="89.7" cy="148.5" r="3.85"/>
<circle cx="95.7" cy="134.2" r="3.85"/>
<circle cx="113.5" cy="218.4" r="3.85"/>
<circle cx="119.5" cy="134.6" r="3.85"/>
<circle cx="137.4" cy="179.5" r="3.85"/>
<circle cx="143.3" cy="171.3" r="3.85"/>
<circle cx="149.3" cy="225.3" r="3.85"/>
<circle cx="155.3" cy="184.7" r="3.85"/>
<circle cx="161.2" cy="241.6" r="3.85"/>
<circle cx="167.2" cy="233.8" r="3.85"/>
<circle cx="173.1" cy="155.3" r="3.85"/>
<circle cx="179.1" cy="238.3" r="3.85"/>
<circle cx="185.1" cy="186.7" r="3.85"/>
<circle cx="208.9" cy="257.4" r="3.85"/>
<circle cx="214.9" cy="171.3" r="3.85"/>
<circle cx="226.8" cy="274.6" r="3.85"/>
<circle cx="244.7" cy="250.2" r="3.85"/>
<circle cx="256.6" cy="255.2" r="3.85"/>
<circle cx="262.5" cy="228.5" r="3.85"/>
<circle cx="268.5" cy="275.7" r="3.85"/>
<circle cx="274.5" cy="323.1" r="3.85"/>
<circle cx="286.4" cy="262.9" r="3.85"/>
<circle cx="292.3" cy="319.2" r="3.85"/>
<circle cx="298.3" cy="250" r="3.85"/>
<circle cx="304.3" cy="202.8" r="3.85"/>
<circle cx="310.2" cy="352.9" r="3.85"/>
<circle cx="316.2" cy="328.6" r="3.85"/>
<circle cx="322.1" cy="250.7" r="3.85"/>
<circle cx="340" cy="263.4" r="3.85"/>
<circle cx="346" cy="320.9" r="3.85"/>
<circle cx="351.9" cy="215.9" r="3.85"/>
<circle cx="357.9" cy="228" r="3.85"/>
<circle cx="369.8" cy="275.6" r="3.85"/>
<circle cx="375.8" cy="274.8" r="3.85"/>
<circle cx="387.7" cy="302.2" r="3.85"/>
<circle cx="393.7" cy="277.8" r="3.85"/>
<circle cx="399.6" cy="273.8" r="3.85"/>
<circle cx="405.6" cy="323.4" r="3.85"/>
<circle cx="411.5" cy="287.5" r="3.85"/>
<circle cx="429.4" cy="282.3" r="3.85"/>
<circle cx="435.4" cy="330.1" r="3.85"/>
<circle cx="441.3" cy="329.7" r="3.85"/>
<circle cx="447.3" cy="358.6" r="3.85"/>
<circle cx="459.2" cy="253.2" r="3.85"/>
<circle cx="465.2" cy="344.6" r="3.85"/>
<circle cx="477.1" cy="292.8" r="3.85"/>
<circle cx="483.1" cy="266.4" r="3.85"/>
<circle cx="489" cy="379" r="3.85"/>
<circle cx="495" cy="344.3" r="3.85"/>
<circle cx="500.9" cy="345.1" r="3.85"/>
<circle cx="506.9" cy="318.2" r="3.85"/>
<circle cx="512.9" cy="313.7" r="3.85"/>
<circle cx="530.7" cy="360.5" r="3.85"/>
</g>
<g class="d">
<circle cx="6.3" cy="145.5" r="4.75"/>
<circle cx="12.2" cy="115.6" r="4.75"/>
<circle cx="18.2" cy="99.5" r="4.75"/>
<circle cx="30.1" cy="168.3" r="4.75"/>
<circle cx="36.1" cy="119.7" r="4.75"/>
<circle cx="48" cy="147" r="4.75"/>
<circle cx="59.9" cy="200.7" r="4.75"/>
<circle cx="71.8" cy="185.9" r="4.75"/>
<circle cx="77.8" cy="137.3" r="4.75"/>
<circle cx="83.7" cy="163" r="4.75"/>
<circle cx="89.7" cy="208.6" r="4.75"/>
<circle cx="95.7" cy="241.7" r="4.75"/>
<circle cx="101.6" cy="166" r="4.75"/>
<circle cx="107.6" cy="202.7" r="4.75"/>
<circle cx="113.5" cy="126.4" r="4.75"/>
<circle cx="119.5" cy="160.5" r="4.75"/>
<circle cx="125.5" cy="166.8" r="4.75"/>
<circle cx="137.4" cy="171.3" r="4.75"/>
<circle cx="143.3" cy="177.2" r="4.75"/>
<circle cx="149.3" cy="264" r="4.75"/>
<circle cx="161.2" cy="226.3" r="4.75"/>
<circle cx="167.2" cy="162.3" r="4.75"/>
<circle cx="173.1" cy="257.3" r="4.75"/>
<circle cx="179.1" cy="175" r="4.75"/>
<circle cx="191" cy="181.4" r="4.75"/>
<circle cx="197" cy="210.9" r="4.75"/>
<circle cx="208.9" cy="162.3" r="4.75"/>
<circle cx="220.8" cy="156.8" r="4.75"/>
<circle cx="226.8" cy="182.2" r="4.75"/>
<circle cx="238.7" cy="252.2" r="4.75"/>
<circle cx="244.7" cy="224.1" r="4.75"/>
<circle cx="250.6" cy="226.3" r="4.75"/>
<circle cx="256.6" cy="206.1" r="4.75"/>
<circle cx="262.5" cy="197.1" r="4.75"/>
<circle cx="268.5" cy="234.5" r="4.75"/>
<circle cx="280.4" cy="241.3" r="4.75"/>
<circle cx="286.4" cy="283.4" r="4.75"/>
<circle cx="298.3" cy="222.3" r="4.75"/>
<circle cx="304.3" cy="198.8" r="4.75"/>
<circle cx="310.2" cy="326.8" r="4.75"/>
<circle cx="322.1" cy="247.7" r="4.75"/>
<circle cx="328.1" cy="284.5" r="4.75"/>
<circle cx="334.1" cy="261.2" r="4.75"/>
<circle cx="340" cy="247.7" r="4.75"/>
<circle cx="346" cy="232" r="4.75"/>
<circle cx="357.9" cy="223.8" r="4.75"/>
<circle cx="363.9" cy="253.7" r="4.75"/>
<circle cx="369.8" cy="189.7" r="4.75"/>
<circle cx="375.8" cy="243.2" r="4.75"/>
<circle cx="381.7" cy="231" r="4.75"/>
<circle cx="387.7" cy="212.9" r="4.75"/>
<circle cx="393.7" cy="261.9" r="4.75"/>
<circle cx="399.6" cy="247.7" r="4.75"/>
<circle cx="411.5" cy="223" r="4.75"/>
<circle cx="417.5" cy="219" r="4.75"/>
<circle cx="423.5" cy="230.5" r="4.75"/>
<circle cx="429.4" cy="255.9" r="4.75"/>
<circle cx="435.4" cy="286" r="4.75"/>
<circle cx="441.3" cy="253.4" r="4.75"/>
<circle cx="447.3" cy="279.7" r="4.75"/>
<circle cx="453.3" cy="304" r="4.75"/>
<circle cx="459.2" cy="300.7" r="4.75"/>
<circle cx="471.1" cy="224.2" r="4.75"/>
<circle cx="477.1" cy="312.2" r="4.75"/>
<circle cx="483.1" cy="289" r="4.75"/>
<circle cx="489" cy="261.6" r="4.75"/>
<circle cx="500.9" cy="291.3" r="4.75"/>
<circle cx="506.9" cy="264.2" r="4.75"/>
<circle cx="512.9" cy="280" r="4.75"/>
<circle cx="518.8" cy="257.1" r="4.75"/>
<circle cx="524.8" cy="252.2" r="4.75"/>
</g>
<path class="ln" stroke="#666666" d="M6.3 150.5L530.7 346.8"/>
<path class="ln" stroke="#1a1a1a" d="M6.3 152.4L530.7 340"/>
<path class="ln" stroke="#69bd45" d="M6.3 152.4L530.7 291"/>
<text class="h" x="303.6" y="-16.9" text-anchor="middle">LLM</text>
</g>
<g transform="translate(122.2,553.3)">
<path class="g" d="M179.1 0V443.3M357.9 0V443.3M536.7 0V443.3M0 24.2H596M0 152.5H596M0 280.8H596M0 409.1H596"/>
<path class="axh" d="M-0.7 0H596.7M-0.7 443.3H596.7"/>
<path class="axv" d="M0 0V443.3M596 0V443.3"/>
<path class="k" d="M179.1 0v6M179.1 443.3v-6M357.9 0v6M357.9 443.3v-6M536.7 0v6M536.7 443.3v-6M0 24.2h6M596 24.2h-6M0 152.5h6M596 152.5h-6M0 280.8h6M596 280.8h-6M0 409.1h6M596 409.1h-6"/>
<g class="o2">
<circle cx="6.3" cy="120.7" r="3.85"/>
<circle cx="18.2" cy="110.5" r="3.85"/>
<circle cx="24.1" cy="183.1" r="3.85"/>
<circle cx="30.1" cy="77.3" r="3.85"/>
<circle cx="36.1" cy="184.6" r="3.85"/>
<circle cx="42" cy="147.9" r="3.85"/>
<circle cx="48" cy="178.6" r="3.85"/>
<circle cx="53.9" cy="144.5" r="3.85"/>
<circle cx="59.9" cy="204.3" r="3.85"/>
<circle cx="65.9" cy="228.4" r="3.85"/>
<circle cx="71.8" cy="159.9" r="3.85"/>
<circle cx="77.8" cy="165.1" r="3.85"/>
<circle cx="83.7" cy="217.5" r="3.85"/>
<circle cx="89.7" cy="212.2" r="3.85"/>
<circle cx="95.7" cy="153.5" r="3.85"/>
<circle cx="101.6" cy="207" r="3.85"/>
<circle cx="113.5" cy="238.1" r="3.85"/>
<circle cx="119.5" cy="255.3" r="3.85"/>
<circle cx="125.5" cy="254.9" r="3.85"/>
<circle cx="131.4" cy="229.6" r="3.85"/>
<circle cx="137.4" cy="233.6" r="3.85"/>
<circle cx="143.3" cy="160.2" r="3.85"/>
<circle cx="149.3" cy="258" r="3.85"/>
<circle cx="155.3" cy="151.7" r="3.85"/>
<circle cx="161.2" cy="274.3" r="3.85"/>
<circle cx="179.1" cy="252.6" r="3.85"/>
<circle cx="185.1" cy="284.8" r="3.85"/>
<circle cx="191" cy="185.3" r="3.85"/>
<circle cx="197" cy="253.8" r="3.85"/>
<circle cx="202.9" cy="342" r="3.85"/>
<circle cx="208.9" cy="176.8" r="3.85"/>
<circle cx="214.9" cy="200.7" r="3.85"/>
<circle cx="220.8" cy="264" r="3.85"/>
<circle cx="226.8" cy="285.2" r="3.85"/>
<circle cx="232.7" cy="306.1" r="3.85"/>
<circle cx="238.7" cy="314.4" r="3.85"/>
<circle cx="244.7" cy="310.6" r="3.85"/>
<circle cx="250.6" cy="283.4" r="3.85"/>
<circle cx="274.5" cy="308.7" r="3.85"/>
<circle cx="280.4" cy="256" r="3.85"/>
<circle cx="286.4" cy="293.4" r="3.85"/>
<circle cx="310.2" cy="259.6" r="3.85"/>
<circle cx="316.2" cy="275.3" r="3.85"/>
<circle cx="322.1" cy="335" r="3.85"/>
<circle cx="328.1" cy="323.8" r="3.85"/>
<circle cx="334.1" cy="272.3" r="3.85"/>
<circle cx="340" cy="320.3" r="3.85"/>
<circle cx="346" cy="321.1" r="3.85"/>
<circle cx="351.9" cy="272" r="3.85"/>
<circle cx="357.9" cy="343.5" r="3.85"/>
<circle cx="369.8" cy="333.8" r="3.85"/>
<circle cx="375.8" cy="286.1" r="3.85"/>
<circle cx="387.7" cy="281.3" r="3.85"/>
<circle cx="393.7" cy="344.6" r="3.85"/>
<circle cx="399.6" cy="301.7" r="3.85"/>
<circle cx="405.6" cy="346.5" r="3.85"/>
<circle cx="411.5" cy="360.4" r="3.85"/>
<circle cx="417.5" cy="370.4" r="3.85"/>
<circle cx="429.4" cy="364.9" r="3.85"/>
<circle cx="435.4" cy="324.1" r="3.85"/>
<circle cx="447.3" cy="379.4" r="3.85"/>
<circle cx="489" cy="368.9" r="3.85"/>
<circle cx="495" cy="321.1" r="3.85"/>
<circle cx="506.9" cy="421.6" r="3.85"/>
<circle cx="524.8" cy="406.3" r="3.85"/>
<circle cx="530.7" cy="439.5" r="3.85"/>
</g>
<g class="o1">
<circle cx="12.2" cy="132.7" r="3.85"/>
<circle cx="18.2" cy="185.3" r="3.85"/>
<circle cx="24.1" cy="289.7" r="3.85"/>
<circle cx="36.1" cy="214.9" r="3.85"/>
<circle cx="42" cy="113.2" r="3.85"/>
<circle cx="48" cy="234.7" r="3.85"/>
<circle cx="53.9" cy="129.5" r="3.85"/>
<circle cx="59.9" cy="137.5" r="3.85"/>
<circle cx="65.9" cy="193.5" r="3.85"/>
<circle cx="71.8" cy="148.7" r="3.85"/>
<circle cx="77.8" cy="153.9" r="3.85"/>
<circle cx="89.7" cy="171.1" r="3.85"/>
<circle cx="95.7" cy="219.9" r="3.85"/>
<circle cx="101.6" cy="217.5" r="3.85"/>
<circle cx="107.6" cy="136.3" r="3.85"/>
<circle cx="125.5" cy="215.7" r="3.85"/>
<circle cx="131.4" cy="295.2" r="3.85"/>
<circle cx="137.4" cy="179.3" r="3.85"/>
<circle cx="143.3" cy="265.8" r="3.85"/>
<circle cx="149.3" cy="207" r="3.85"/>
<circle cx="173.1" cy="247.1" r="3.85"/>
<circle cx="185.1" cy="210" r="3.85"/>
<circle cx="191" cy="194" r="3.85"/>
<circle cx="197" cy="216.4" r="3.85"/>
<circle cx="202.9" cy="264" r="3.85"/>
<circle cx="208.9" cy="151.2" r="3.85"/>
<circle cx="214.9" cy="230.6" r="3.85"/>
<circle cx="226.8" cy="279.2" r="3.85"/>
<circle cx="232.7" cy="240.8" r="3.85"/>
<circle cx="244.7" cy="289.7" r="3.85"/>
<circle cx="250.6" cy="249.3" r="3.85"/>
<circle cx="256.6" cy="246.3" r="3.85"/>
<circle cx="262.5" cy="284.5" r="3.85"/>
<circle cx="268.5" cy="171.4" r="3.85"/>
<circle cx="292.3" cy="196.1" r="3.85"/>
<circle cx="298.3" cy="259.6" r="3.85"/>
<circle cx="316.2" cy="235.7" r="3.85"/>
<circle cx="328.1" cy="231.2" r="3.85"/>
<circle cx="334.1" cy="258.9" r="3.85"/>
<circle cx="340" cy="326.8" r="3.85"/>
<circle cx="346" cy="259.6" r="3.85"/>
<circle cx="357.9" cy="335.8" r="3.85"/>
<circle cx="363.9" cy="293.6" r="3.85"/>
<circle cx="369.8" cy="382" r="3.85"/>
<circle cx="381.7" cy="357.7" r="3.85"/>
<circle cx="387.7" cy="355.5" r="3.85"/>
<circle cx="399.6" cy="305.8" r="3.85"/>
<circle cx="411.5" cy="374.5" r="3.85"/>
<circle cx="417.5" cy="333.8" r="3.85"/>
<circle cx="429.4" cy="324.8" r="3.85"/>
<circle cx="435.4" cy="393.9" r="3.85"/>
<circle cx="447.3" cy="351.8" r="3.85"/>
<circle cx="459.2" cy="352.5" r="3.85"/>
<circle cx="465.2" cy="387.3" r="3.85"/>
<circle cx="477.1" cy="363.7" r="3.85"/>
<circle cx="483.1" cy="384.7" r="3.85"/>
<circle cx="489" cy="335.3" r="3.85"/>
<circle cx="495" cy="327.1" r="3.85"/>
<circle cx="500.9" cy="328.6" r="3.85"/>
<circle cx="506.9" cy="443.4" r="3.85"/>
<circle cx="512.9" cy="402.9" r="3.85"/>
<circle cx="524.8" cy="341.7" r="3.85"/>
<circle cx="530.7" cy="339" r="3.85"/>
</g>
<g class="d">
<circle cx="6.3" cy="172.1" r="4.75"/>
<circle cx="12.2" cy="96.3" r="4.75"/>
<circle cx="24.1" cy="175.6" r="4.75"/>
<circle cx="30.1" cy="204.7" r="4.75"/>
<circle cx="36.1" cy="187.8" r="4.75"/>
<circle cx="42" cy="142.4" r="4.75"/>
<circle cx="48" cy="136" r="4.75"/>
<circle cx="53.9" cy="186.1" r="4.75"/>
<circle cx="65.9" cy="147.2" r="4.75"/>
<circle cx="71.8" cy="198" r="4.75"/>
<circle cx="77.8" cy="156.9" r="4.75"/>
<circle cx="83.7" cy="226.9" r="4.75"/>
<circle cx="95.7" cy="227.3" r="4.75"/>
<circle cx="101.6" cy="148.4" r="4.75"/>
<circle cx="113.5" cy="177.1" r="4.75"/>
<circle cx="119.5" cy="126.5" r="4.75"/>
<circle cx="125.5" cy="220.9" r="4.75"/>
<circle cx="131.4" cy="156.9" r="4.75"/>
<circle cx="137.4" cy="166.9" r="4.75"/>
<circle cx="143.3" cy="238.1" r="4.75"/>
<circle cx="149.3" cy="131.2" r="4.75"/>
<circle cx="155.3" cy="185.3" r="4.75"/>
<circle cx="167.2" cy="207" r="4.75"/>
<circle cx="173.1" cy="187.8" r="4.75"/>
<circle cx="179.1" cy="166.6" r="4.75"/>
<circle cx="185.1" cy="198" r="4.75"/>
<circle cx="191" cy="219.9" r="4.75"/>
<circle cx="202.9" cy="183.8" r="4.75"/>
<circle cx="214.9" cy="186.1" r="4.75"/>
<circle cx="220.8" cy="184.6" r="4.75"/>
<circle cx="226.8" cy="201.8" r="4.75"/>
<circle cx="232.7" cy="225.4" r="4.75"/>
<circle cx="238.7" cy="213.7" r="4.75"/>
<circle cx="250.6" cy="274" r="4.75"/>
<circle cx="262.5" cy="247.1" r="4.75"/>
<circle cx="268.5" cy="252.3" r="4.75"/>
<circle cx="274.5" cy="204.4" r="4.75"/>
<circle cx="280.4" cy="242.6" r="4.75"/>
<circle cx="286.4" cy="259.8" r="4.75"/>
<circle cx="292.3" cy="214.9" r="4.75"/>
<circle cx="298.3" cy="200.8" r="4.75"/>
<circle cx="310.2" cy="235.7" r="4.75"/>
<circle cx="316.2" cy="221.5" r="4.75"/>
<circle cx="322.1" cy="265.6" r="4.75"/>
<circle cx="328.1" cy="234.9" r="4.75"/>
<circle cx="334.1" cy="265.6" r="4.75"/>
<circle cx="340" cy="280.1" r="4.75"/>
<circle cx="346" cy="264.1" r="4.75"/>
<circle cx="351.9" cy="220.3" r="4.75"/>
<circle cx="363.9" cy="330.8" r="4.75"/>
<circle cx="369.8" cy="222.2" r="4.75"/>
<circle cx="375.8" cy="270.1" r="4.75"/>
<circle cx="381.7" cy="253.6" r="4.75"/>
<circle cx="387.7" cy="250.9" r="4.75"/>
<circle cx="393.7" cy="277.6" r="4.75"/>
<circle cx="399.6" cy="236.4" r="4.75"/>
<circle cx="423.5" cy="237.5" r="4.75"/>
<circle cx="429.4" cy="296.7" r="4.75"/>
<circle cx="435.4" cy="267.1" r="4.75"/>
<circle cx="441.3" cy="330.1" r="4.75"/>
<circle cx="447.3" cy="297.7" r="4.75"/>
<circle cx="453.3" cy="275.3" r="4.75"/>
<circle cx="459.2" cy="300.9" r="4.75"/>
<circle cx="465.2" cy="307.6" r="4.75"/>
<circle cx="471.1" cy="231.2" r="4.75"/>
<circle cx="477.1" cy="302.4" r="4.75"/>
<circle cx="483.1" cy="308.1" r="4.75"/>
<circle cx="489" cy="273.8" r="4.75"/>
<circle cx="495" cy="261.1" r="4.75"/>
<circle cx="500.9" cy="274.6" r="4.75"/>
<circle cx="506.9" cy="291.8" r="4.75"/>
<circle cx="518.8" cy="322.6" r="4.75"/>
<circle cx="524.8" cy="294" r="4.75"/>
</g>
<path class="ln" stroke="#666666" d="M6.3 152.5L530.7 398.2"/>
<path class="ln" stroke="#1a1a1a" d="M6.3 152.5L530.7 375.7"/>
<path class="ln" stroke="#69bd45" d="M6.3 152.5L530.7 305.2"/>
<text class="h" x="303.6" y="-16.8" text-anchor="middle">RLM</text>
<text class="t" x="-5.5" y="38.8" text-anchor="end">120</text>
<text class="t" x="-5.5" y="167.1" text-anchor="end">100</text>
<text class="t" x="-5.5" y="295.4" text-anchor="end">80</text>
<text class="t" x="-5.5" y="423.7" text-anchor="end">60</text>
<text class="l" transform="translate(-86.9,221.7) rotate(-90)" text-anchor="middle">MDF (% initial MDF)</text>
<text class="t" x="-2.4" y="485.5">0</text>
<text class="t" x="179.4" y="485.5">30</text>
<text class="t" x="357.7" y="485.5">60</text>
<text class="t" x="539" y="485.5">90</text>
<text class="l" x="301.3" y="540.5" text-anchor="middle">time (s)</text>
</g>
<g transform="translate(764.7,553.3)">
<path class="g" d="M179.1 0V443.3M357.9 0V443.3M536.7 0V443.3M0 24.2H596M0 152.5H596M0 280.8H596M0 409.1H596"/>
<path class="axh" d="M-0.7 0H596.7M-0.7 443.3H596.7"/>
<path class="axv" d="M0 0V443.3M596 0V443.3"/>
<path class="k" d="M179.1 0v6M179.1 443.3v-6M357.9 0v6M357.9 443.3v-6M536.7 0v6M536.7 443.3v-6M0 24.2h6M596 24.2h-6M0 152.5h6M596 152.5h-6M0 280.8h6M596 280.8h-6M0 409.1h6M596 409.1h-6"/>
<g class="o2">
<circle cx="6.3" cy="101.5" r="3.85"/>
<circle cx="12.2" cy="148.3" r="3.85"/>
<circle cx="18.2" cy="143.1" r="3.85"/>
<circle cx="36.1" cy="109" r="3.85"/>
<circle cx="42" cy="100.7" r="3.85"/>
<circle cx="48" cy="155.8" r="3.85"/>
<circle cx="59.9" cy="160.7" r="3.85"/>
<circle cx="65.9" cy="189.1" r="3.85"/>
<circle cx="71.8" cy="212.6" r="3.85"/>
<circle cx="77.8" cy="106.1" r="3.85"/>
<circle cx="83.7" cy="225.8" r="3.85"/>
<circle cx="89.7" cy="233.5" r="3.85"/>
<circle cx="95.7" cy="207.8" r="3.85"/>
<circle cx="101.6" cy="105.2" r="3.85"/>
<circle cx="113.5" cy="157.6" r="3.85"/>
<circle cx="119.5" cy="236.2" r="3.85"/>
<circle cx="125.5" cy="253.1" r="3.85"/>
<circle cx="131.4" cy="226.8" r="3.85"/>
<circle cx="137.4" cy="141.9" r="3.85"/>
<circle cx="143.3" cy="220.8" r="3.85"/>
<circle cx="149.3" cy="170.4" r="3.85"/>
<circle cx="161.2" cy="270.3" r="3.85"/>
<circle cx="167.2" cy="227.3" r="3.85"/>
<circle cx="173.1" cy="266.1" r="3.85"/>
<circle cx="185.1" cy="192.1" r="3.85"/>
<circle cx="191" cy="186.1" r="3.85"/>
<circle cx="197" cy="238.5" r="3.85"/>
<circle cx="208.9" cy="194.4" r="3.85"/>
<circle cx="214.9" cy="144.6" r="3.85"/>
<circle cx="220.8" cy="306.8" r="3.85"/>
<circle cx="226.8" cy="260.6" r="3.85"/>
<circle cx="232.7" cy="273.6" r="3.85"/>
<circle cx="244.7" cy="310.6" r="3.85"/>
<circle cx="256.6" cy="219" r="3.85"/>
<circle cx="268.5" cy="288.6" r="3.85"/>
<circle cx="274.5" cy="225" r="3.85"/>
<circle cx="280.4" cy="177.9" r="3.85"/>
<circle cx="298.3" cy="229.4" r="3.85"/>
<circle cx="310.2" cy="282.5" r="3.85"/>
<circle cx="328.1" cy="300.9" r="3.85"/>
<circle cx="346" cy="299.4" r="3.85"/>
<circle cx="351.9" cy="242.1" r="3.85"/>
<circle cx="357.9" cy="328.6" r="3.85"/>
<circle cx="369.8" cy="289.2" r="3.85"/>
<circle cx="381.7" cy="316.2" r="3.85"/>
<circle cx="387.7" cy="362.5" r="3.85"/>
<circle cx="393.7" cy="249.2" r="3.85"/>
<circle cx="399.6" cy="243.6" r="3.85"/>
<circle cx="405.6" cy="279.5" r="3.85"/>
<circle cx="417.5" cy="350.3" r="3.85"/>
<circle cx="423.5" cy="247.8" r="3.85"/>
<circle cx="429.4" cy="272" r="3.85"/>
<circle cx="435.4" cy="306.9" r="3.85"/>
<circle cx="447.3" cy="372.7" r="3.85"/>
<circle cx="453.3" cy="270.8" r="3.85"/>
<circle cx="459.2" cy="342.8" r="3.85"/>
<circle cx="465.2" cy="261.9" r="3.85"/>
<circle cx="471.1" cy="299.4" r="3.85"/>
<circle cx="483.1" cy="372.7" r="3.85"/>
<circle cx="495" cy="262.3" r="3.85"/>
<circle cx="506.9" cy="343.2" r="3.85"/>
<circle cx="512.9" cy="252.1" r="3.85"/>
<circle cx="518.8" cy="345" r="3.85"/>
<circle cx="524.8" cy="250.8" r="3.85"/>
<circle cx="530.7" cy="350.3" r="3.85"/>
</g>
<g class="o1">
<circle cx="6.3" cy="191.4" r="3.85"/>
<circle cx="12.2" cy="107.6" r="3.85"/>
<circle cx="18.2" cy="75.5" r="3.85"/>
<circle cx="24.1" cy="168.5" r="3.85"/>
<circle cx="30.1" cy="132.3" r="3.85"/>
<circle cx="36.1" cy="219.3" r="3.85"/>
<circle cx="42" cy="197.8" r="3.85"/>
<circle cx="53.9" cy="139.8" r="3.85"/>
<circle cx="59.9" cy="198.6" r="3.85"/>
<circle cx="65.9" cy="207.5" r="3.85"/>
<circle cx="71.8" cy="198.1" r="3.85"/>
<circle cx="77.8" cy="158" r="3.85"/>
<circle cx="83.7" cy="29.4" r="3.85"/>
<circle cx="95.7" cy="151" r="3.85"/>
<circle cx="101.6" cy="286.3" r="3.85"/>
<circle cx="107.6" cy="243.4" r="3.85"/>
<circle cx="113.5" cy="215.3" r="3.85"/>
<circle cx="125.5" cy="302.8" r="3.85"/>
<circle cx="137.4" cy="153.5" r="3.85"/>
<circle cx="143.3" cy="186.1" r="3.85"/>
<circle cx="161.2" cy="247.5" r="3.85"/>
<circle cx="167.2" cy="302" r="3.85"/>
<circle cx="173.1" cy="258.4" r="3.85"/>
<circle cx="179.1" cy="167.4" r="3.85"/>
<circle cx="191" cy="271.1" r="3.85"/>
<circle cx="202.9" cy="250.4" r="3.85"/>
<circle cx="208.9" cy="249.4" r="3.85"/>
<circle cx="214.9" cy="199.6" r="3.85"/>
<circle cx="220.8" cy="300.8" r="3.85"/>
<circle cx="232.7" cy="330.5" r="3.85"/>
<circle cx="238.7" cy="265" r="3.85"/>
<circle cx="244.7" cy="305.8" r="3.85"/>
<circle cx="256.6" cy="161.3" r="3.85"/>
<circle cx="262.5" cy="207.1" r="3.85"/>
<circle cx="280.4" cy="281.8" r="3.85"/>
<circle cx="292.3" cy="219.2" r="3.85"/>
<circle cx="304.3" cy="311.7" r="3.85"/>
<circle cx="310.2" cy="301.2" r="3.85"/>
<circle cx="322.1" cy="325.1" r="3.85"/>
<circle cx="328.1" cy="206.7" r="3.85"/>
<circle cx="340" cy="242.1" r="3.85"/>
<circle cx="351.9" cy="318.1" r="3.85"/>
<circle cx="357.9" cy="236.4" r="3.85"/>
<circle cx="363.9" cy="247.1" r="3.85"/>
<circle cx="375.8" cy="240.2" r="3.85"/>
<circle cx="381.7" cy="352.9" r="3.85"/>
<circle cx="387.7" cy="293.7" r="3.85"/>
<circle cx="393.7" cy="318.9" r="3.85"/>
<circle cx="399.6" cy="370.7" r="3.85"/>
<circle cx="405.6" cy="336" r="3.85"/>
<circle cx="411.5" cy="304.6" r="3.85"/>
<circle cx="417.5" cy="355.2" r="3.85"/>
<circle cx="423.5" cy="391.4" r="3.85"/>
<circle cx="429.4" cy="359.5" r="3.85"/>
<circle cx="435.4" cy="332.8" r="3.85"/>
<circle cx="447.3" cy="389.9" r="3.85"/>
<circle cx="453.3" cy="354.3" r="3.85"/>
<circle cx="459.2" cy="272.8" r="3.85"/>
<circle cx="465.2" cy="319.9" r="3.85"/>
<circle cx="477.1" cy="333.8" r="3.85"/>
<circle cx="489" cy="352.5" r="3.85"/>
<circle cx="495" cy="314.4" r="3.85"/>
<circle cx="500.9" cy="376.4" r="3.85"/>
<circle cx="506.9" cy="337.1" r="3.85"/>
<circle cx="512.9" cy="372.4" r="3.85"/>
<circle cx="518.8" cy="339" r="3.85"/>
<circle cx="524.8" cy="376.4" r="3.85"/>
<circle cx="530.7" cy="324.8" r="3.85"/>
</g>
<g class="d">
<circle cx="6.3" cy="180.9" r="4.75"/>
<circle cx="18.2" cy="137.1" r="4.75"/>
<circle cx="24.1" cy="141.6" r="4.75"/>
<circle cx="30.1" cy="241.2" r="4.75"/>
<circle cx="36.1" cy="195.1" r="4.75"/>
<circle cx="42" cy="214.3" r="4.75"/>
<circle cx="48" cy="151" r="4.75"/>
<circle cx="53.9" cy="180.2" r="4.75"/>
<circle cx="59.9" cy="185.4" r="4.75"/>
<circle cx="65.9" cy="103.7" r="4.75"/>
<circle cx="71.8" cy="195.1" r="4.75"/>
<circle cx="77.8" cy="145.6" r="4.75"/>
<circle cx="83.7" cy="116.4" r="4.75"/>
<circle cx="89.7" cy="149.5" r="4.75"/>
<circle cx="101.6" cy="171.5" r="4.75"/>
<circle cx="107.6" cy="212.8" r="4.75"/>
<circle cx="113.5" cy="176.7" r="4.75"/>
<circle cx="119.5" cy="232.9" r="4.75"/>
<circle cx="131.4" cy="171.5" r="4.75"/>
<circle cx="143.3" cy="168.9" r="4.75"/>
<circle cx="149.3" cy="158" r="4.75"/>
<circle cx="155.3" cy="186.9" r="4.75"/>
<circle cx="167.2" cy="144.9" r="4.75"/>
<circle cx="173.1" cy="297.1" r="4.75"/>
<circle cx="185.1" cy="164" r="4.75"/>
<circle cx="191" cy="249.4" r="4.75"/>
<circle cx="208.9" cy="183.9" r="4.75"/>
<circle cx="214.9" cy="192.9" r="4.75"/>
<circle cx="220.8" cy="174.5" r="4.75"/>
<circle cx="226.8" cy="266.1" r="4.75"/>
<circle cx="232.7" cy="186.6" r="4.75"/>
<circle cx="238.7" cy="273.6" r="4.75"/>
<circle cx="250.6" cy="287.4" r="4.75"/>
<circle cx="262.5" cy="190.6" r="4.75"/>
<circle cx="268.5" cy="174.2" r="4.75"/>
<circle cx="274.5" cy="251.9" r="4.75"/>
<circle cx="280.4" cy="197.8" r="4.75"/>
<circle cx="286.4" cy="201.8" r="4.75"/>
<circle cx="298.3" cy="189.8" r="4.75"/>
<circle cx="334.1" cy="309.9" r="4.75"/>
<circle cx="340" cy="244.4" r="4.75"/>
<circle cx="346" cy="217" r="4.75"/>
<circle cx="351.9" cy="227.9" r="4.75"/>
<circle cx="357.9" cy="265.6" r="4.75"/>
<circle cx="363.9" cy="204.3" r="4.75"/>
<circle cx="369.8" cy="227.9" r="4.75"/>
<circle cx="381.7" cy="237.6" r="4.75"/>
<circle cx="387.7" cy="314.4" r="4.75"/>
<circle cx="399.6" cy="213.7" r="4.75"/>
<circle cx="405.6" cy="242.6" r="4.75"/>
<circle cx="411.5" cy="280.3" r="4.75"/>
<circle cx="417.5" cy="305.1" r="4.75"/>
<circle cx="423.5" cy="254.8" r="4.75"/>
<circle cx="435.4" cy="262.6" r="4.75"/>
<circle cx="441.3" cy="277.3" r="4.75"/>
<circle cx="447.3" cy="208" r="4.75"/>
<circle cx="453.3" cy="320.3" r="4.75"/>
<circle cx="477.1" cy="249.6" r="4.75"/>
<circle cx="483.1" cy="278.3" r="4.75"/>
<circle cx="489" cy="306.1" r="4.75"/>
<circle cx="495" cy="270.8" r="4.75"/>
<circle cx="500.9" cy="359.2" r="4.75"/>
<circle cx="506.9" cy="263.1" r="4.75"/>
<circle cx="512.9" cy="316.6" r="4.75"/>
<circle cx="530.7" cy="379" r="4.75"/>
</g>
<path class="ln" stroke="#666666" d="M6.3 152.5L530.7 332.1"/>
<path class="ln" stroke="#1a1a1a" d="M6.3 152.5L530.7 362.3"/>
<path class="ln" stroke="#69bd45" d="M6.3 152.5L530.7 309"/>
<text class="h" x="302.4" y="-16.8" text-anchor="middle">RLT</text>
<text class="t" x="0.4" y="485.5">0</text>
<text class="t" x="182.2" y="485.5">30</text>
<text class="t" x="360.5" y="485.5">60</text>
<text class="t" x="541.8" y="485.5">90</text>
<text class="l" x="301.3" y="540.5" text-anchor="middle">time (s)</text>
</g>
<g transform="translate(1407.2,553.3)">
<path class="g" d="M179.1 0V443.3M357.9 0V443.3M536.7 0V443.3M0 24.2H596M0 152.5H596M0 280.8H596M0 409.1H596"/>
<path class="axh" d="M-0.7 0H596.7M-0.7 443.3H596.7"/>
<path class="axv" d="M0 0V443.3M596 0V443.3"/>
<path class="k" d="M179.1 0v6M179.1 443.3v-6M357.9 0v6M357.9 443.3v-6M536.7 0v6M536.7 443.3v-6M0 24.2h6M596 24.2h-6M0 152.5h6M596 152.5h-6M0 280.8h6M596 280.8h-6M0 409.1h6M596 409.1h-6"/>
<g class="o2">
<circle cx="18.2" cy="172.2" r="3.85"/>
<circle cx="24.1" cy="59.8" r="3.85"/>
<circle cx="30.1" cy="98.7" r="3.85"/>
<circle cx="36.1" cy="185.4" r="3.85"/>
<circle cx="42" cy="107.9" r="3.85"/>
<circle cx="48" cy="154.3" r="3.85"/>
<circle cx="53.9" cy="197.7" r="3.85"/>
<circle cx="59.9" cy="136.3" r="3.85"/>
<circle cx="65.9" cy="196.6" r="3.85"/>
<circle cx="71.8" cy="211.9" r="3.85"/>
<circle cx="77.8" cy="131.5" r="3.85"/>
<circle cx="83.7" cy="142" r="3.85"/>
<circle cx="95.7" cy="192.9" r="3.85"/>
<circle cx="107.6" cy="146.8" r="3.85"/>
<circle cx="113.5" cy="203.3" r="3.85"/>
<circle cx="119.5" cy="134.1" r="3.85"/>
<circle cx="125.5" cy="142.3" r="3.85"/>
<circle cx="131.4" cy="209" r="3.85"/>
<circle cx="143.3" cy="267.2" r="3.85"/>
<circle cx="149.3" cy="257.2" r="3.85"/>
<circle cx="155.3" cy="170" r="3.85"/>
<circle cx="161.2" cy="145.3" r="3.85"/>
<circle cx="167.2" cy="216" r="3.85"/>
<circle cx="173.1" cy="153.5" r="3.85"/>
<circle cx="179.1" cy="203.3" r="3.85"/>
<circle cx="185.1" cy="161" r="3.85"/>
<circle cx="191" cy="274.1" r="3.85"/>
<circle cx="197" cy="185.4" r="3.85"/>
<circle cx="208.9" cy="194.4" r="3.85"/>
<circle cx="214.9" cy="220.2" r="3.85"/>
<circle cx="220.8" cy="258.4" r="3.85"/>
<circle cx="226.8" cy="278.1" r="3.85"/>
<circle cx="232.7" cy="250.9" r="3.85"/>
<circle cx="238.7" cy="293.8" r="3.85"/>
<circle cx="244.7" cy="194.8" r="3.85"/>
<circle cx="250.6" cy="173" r="3.85"/>
<circle cx="256.6" cy="147.3" r="3.85"/>
<circle cx="262.5" cy="278.1" r="3.85"/>
<circle cx="268.5" cy="272.6" r="3.85"/>
<circle cx="274.5" cy="258.7" r="3.85"/>
<circle cx="280.4" cy="277.4" r="3.85"/>
<circle cx="286.4" cy="205.9" r="3.85"/>
<circle cx="292.3" cy="176.7" r="3.85"/>
<circle cx="298.3" cy="211.8" r="3.85"/>
<circle cx="304.3" cy="244.7" r="3.85"/>
<circle cx="310.2" cy="194.7" r="3.85"/>
<circle cx="316.2" cy="274.4" r="3.85"/>
<circle cx="322.1" cy="338.4" r="3.85"/>
<circle cx="328.1" cy="291.3" r="3.85"/>
<circle cx="334.1" cy="204.8" r="3.85"/>
<circle cx="340" cy="209.6" r="3.85"/>
<circle cx="346" cy="153.5" r="3.85"/>
<circle cx="351.9" cy="192.4" r="3.85"/>
<circle cx="357.9" cy="265.4" r="3.85"/>
<circle cx="369.8" cy="251.7" r="3.85"/>
<circle cx="375.8" cy="192" r="3.85"/>
<circle cx="387.7" cy="304" r="3.85"/>
<circle cx="393.7" cy="271.8" r="3.85"/>
<circle cx="399.6" cy="298" r="3.85"/>
<circle cx="405.6" cy="296.2" r="3.85"/>
<circle cx="411.5" cy="285.8" r="3.85"/>
<circle cx="435.4" cy="311" r="3.85"/>
<circle cx="441.3" cy="331.7" r="3.85"/>
<circle cx="447.3" cy="244.7" r="3.85"/>
<circle cx="453.3" cy="215.6" r="3.85"/>
<circle cx="459.2" cy="251.7" r="3.85"/>
<circle cx="465.2" cy="279" r="3.85"/>
<circle cx="477.1" cy="330.6" r="3.85"/>
<circle cx="483.1" cy="253.4" r="3.85"/>
<circle cx="495" cy="242.5" r="3.85"/>
<circle cx="500.9" cy="297.3" r="3.85"/>
<circle cx="506.9" cy="208.4" r="3.85"/>
<circle cx="512.9" cy="292.5" r="3.85"/>
<circle cx="518.8" cy="262.9" r="3.85"/>
<circle cx="524.8" cy="240.6" r="3.85"/>
<circle cx="530.7" cy="258.1" r="3.85"/>
</g>
<g class="o1">
<circle cx="6.3" cy="265.8" r="3.85"/>
<circle cx="12.2" cy="142.8" r="3.85"/>
<circle cx="18.2" cy="146.5" r="3.85"/>
<circle cx="24.1" cy="249.7" r="3.85"/>
<circle cx="30.1" cy="172.2" r="3.85"/>
<circle cx="36.1" cy="180.2" r="3.85"/>
<circle cx="42" cy="223.1" r="3.85"/>
<circle cx="48" cy="192.9" r="3.85"/>
<circle cx="53.9" cy="185.7" r="3.85"/>
<circle cx="59.9" cy="204.1" r="3.85"/>
<circle cx="65.9" cy="124.4" r="3.85"/>
<circle cx="71.8" cy="41.1" r="3.85"/>
<circle cx="83.7" cy="89.2" r="3.85"/>
<circle cx="89.7" cy="112.9" r="3.85"/>
<circle cx="95.7" cy="228.3" r="3.85"/>
<circle cx="113.5" cy="221.6" r="3.85"/>
<circle cx="119.5" cy="119.6" r="3.85"/>
<circle cx="125.5" cy="139" r="3.85"/>
<circle cx="137.4" cy="144.6" r="3.85"/>
<circle cx="143.3" cy="65.6" r="3.85"/>
<circle cx="149.3" cy="229.1" r="3.85"/>
<circle cx="155.3" cy="202.1" r="3.85"/>
<circle cx="161.2" cy="241" r="3.85"/>
<circle cx="167.2" cy="219.8" r="3.85"/>
<circle cx="173.1" cy="186.1" r="3.85"/>
<circle cx="179.1" cy="175.2" r="3.85"/>
<circle cx="185.1" cy="115" r="3.85"/>
<circle cx="191" cy="141.3" r="3.85"/>
<circle cx="197" cy="154.3" r="3.85"/>
<circle cx="202.9" cy="267.2" r="3.85"/>
<circle cx="208.9" cy="182.4" r="3.85"/>
<circle cx="214.9" cy="268.8" r="3.85"/>
<circle cx="220.8" cy="240.4" r="3.85"/>
<circle cx="226.8" cy="285.6" r="3.85"/>
<circle cx="232.7" cy="155.8" r="3.85"/>
<circle cx="238.7" cy="169.2" r="3.85"/>
<circle cx="244.7" cy="257.2" r="3.85"/>
<circle cx="250.6" cy="161.3" r="3.85"/>
<circle cx="256.6" cy="179.4" r="3.85"/>
<circle cx="262.5" cy="244.9" r="3.85"/>
<circle cx="268.5" cy="206.6" r="3.85"/>
<circle cx="274.5" cy="252.4" r="3.85"/>
<circle cx="280.4" cy="257.5" r="3.85"/>
<circle cx="286.4" cy="194.8" r="3.85"/>
<circle cx="292.3" cy="257.6" r="3.85"/>
<circle cx="298.3" cy="244" r="3.85"/>
<circle cx="310.2" cy="201.4" r="3.85"/>
<circle cx="316.2" cy="258.8" r="3.85"/>
<circle cx="328.1" cy="279.3" r="3.85"/>
<circle cx="334.1" cy="191.7" r="3.85"/>
<circle cx="340" cy="204.4" r="3.85"/>
<circle cx="346" cy="186.4" r="3.85"/>
<circle cx="351.9" cy="258.8" r="3.85"/>
<circle cx="363.9" cy="215.9" r="3.85"/>
<circle cx="369.8" cy="315.5" r="3.85"/>
<circle cx="375.8" cy="274.8" r="3.85"/>
<circle cx="381.7" cy="329.1" r="3.85"/>
<circle cx="387.7" cy="289" r="3.85"/>
<circle cx="393.7" cy="349.9" r="3.85"/>
<circle cx="411.5" cy="214.8" r="3.85"/>
<circle cx="417.5" cy="235" r="3.85"/>
<circle cx="429.4" cy="220.1" r="3.85"/>
<circle cx="435.4" cy="336.4" r="3.85"/>
<circle cx="441.3" cy="223.8" r="3.85"/>
<circle cx="447.3" cy="295.3" r="3.85"/>
<circle cx="453.3" cy="237.7" r="3.85"/>
<circle cx="459.2" cy="318.5" r="3.85"/>
<circle cx="471.1" cy="252.4" r="3.85"/>
<circle cx="477.1" cy="280.8" r="3.85"/>
<circle cx="483.1" cy="295.5" r="3.85"/>
<circle cx="489" cy="245.9" r="3.85"/>
<circle cx="495" cy="287.5" r="3.85"/>
<circle cx="500.9" cy="311" r="3.85"/>
<circle cx="506.9" cy="242.8" r="3.85"/>
<circle cx="524.8" cy="296.1" r="3.85"/>
</g>
<g class="d">
<circle cx="6.3" cy="160.3" r="4.75"/>
<circle cx="12.2" cy="253.1" r="4.75"/>
<circle cx="18.2" cy="176.4" r="4.75"/>
<circle cx="24.1" cy="78.5" r="4.75"/>
<circle cx="30.1" cy="170" r="4.75"/>
<circle cx="36.1" cy="148.3" r="4.75"/>
<circle cx="42" cy="122.6" r="4.75"/>
<circle cx="48" cy="107.2" r="4.75"/>
<circle cx="53.9" cy="100.1" r="4.75"/>
<circle cx="59.9" cy="138.1" r="4.75"/>
<circle cx="65.9" cy="125.1" r="4.75"/>
<circle cx="71.8" cy="107.2" r="4.75"/>
<circle cx="77.8" cy="134.8" r="4.75"/>
<circle cx="83.7" cy="152.8" r="4.75"/>
<circle cx="89.7" cy="227.3" r="4.75"/>
<circle cx="95.7" cy="182.4" r="4.75"/>
<circle cx="107.6" cy="140.1" r="4.75"/>
<circle cx="113.5" cy="224.7" r="4.75"/>
<circle cx="119.5" cy="189.1" r="4.75"/>
<circle cx="125.5" cy="240.7" r="4.75"/>
<circle cx="131.4" cy="228.8" r="4.75"/>
<circle cx="137.4" cy="171.5" r="4.75"/>
<circle cx="149.3" cy="161" r="4.75"/>
<circle cx="155.3" cy="233.5" r="4.75"/>
<circle cx="161.2" cy="223.2" r="4.75"/>
<circle cx="173.1" cy="140.5" r="4.75"/>
<circle cx="179.1" cy="162.5" r="4.75"/>
<circle cx="185.1" cy="142.8" r="4.75"/>
<circle cx="191" cy="219" r="4.75"/>
<circle cx="197" cy="294.9" r="4.75"/>
<circle cx="202.9" cy="221.7" r="4.75"/>
<circle cx="208.9" cy="128.1" r="4.75"/>
<circle cx="214.9" cy="185.4" r="4.75"/>
<circle cx="220.8" cy="120.6" r="4.75"/>
<circle cx="226.8" cy="249.4" r="4.75"/>
<circle cx="232.7" cy="224.7" r="4.75"/>
<circle cx="238.7" cy="224.7" r="4.75"/>
<circle cx="244.7" cy="262" r="4.75"/>
<circle cx="250.6" cy="293.5" r="4.75"/>
<circle cx="256.6" cy="197.1" r="4.75"/>
<circle cx="262.5" cy="157.3" r="4.75"/>
<circle cx="268.5" cy="324.2" r="4.75"/>
<circle cx="274.5" cy="288.6" r="4.75"/>
<circle cx="280.4" cy="249.7" r="4.75"/>
<circle cx="286.4" cy="172.5" r="4.75"/>
<circle cx="292.3" cy="348.1" r="4.75"/>
<circle cx="304.3" cy="248" r="4.75"/>
<circle cx="310.2" cy="302.1" r="4.75"/>
<circle cx="316.2" cy="188.7" r="4.75"/>
<circle cx="322.1" cy="221.6" r="4.75"/>
<circle cx="328.1" cy="299.5" r="4.75"/>
<circle cx="334.1" cy="194.2" r="4.75"/>
<circle cx="340" cy="166.7" r="4.75"/>
<circle cx="346" cy="249.9" r="4.75"/>
<circle cx="351.9" cy="189.7" r="4.75"/>
<circle cx="363.9" cy="177.9" r="4.75"/>
<circle cx="369.8" cy="107.5" r="4.75"/>
<circle cx="381.7" cy="201.8" r="4.75"/>
<circle cx="387.7" cy="338.4" r="4.75"/>
<circle cx="393.7" cy="283.1" r="4.75"/>
<circle cx="399.6" cy="192.4" r="4.75"/>
<circle cx="405.6" cy="283.5" r="4.75"/>
<circle cx="411.5" cy="200.6" r="4.75"/>
<circle cx="417.5" cy="199.9" r="4.75"/>
<circle cx="423.5" cy="199.1" r="4.75"/>
<circle cx="429.4" cy="335.1" r="4.75"/>
<circle cx="435.4" cy="199.9" r="4.75"/>
<circle cx="447.3" cy="227.1" r="4.75"/>
<circle cx="453.3" cy="276.3" r="4.75"/>
<circle cx="471.1" cy="200.3" r="4.75"/>
<circle cx="477.1" cy="234.7" r="4.75"/>
<circle cx="483.1" cy="311" r="4.75"/>
<circle cx="495" cy="224.3" r="4.75"/>
<circle cx="500.9" cy="291.6" r="4.75"/>
<circle cx="512.9" cy="241" r="4.75"/>
<circle cx="524.8" cy="251.7" r="4.75"/>
<circle cx="530.7" cy="340.6" r="4.75"/>
</g>
<path class="ln" stroke="#666666" d="M6.3 154.4L530.7 285.3"/>
<path class="ln" stroke="#1a1a1a" d="M6.3 154.4L530.7 287.9"/>
<path class="ln" stroke="#69bd45" d="M6.3 153.8L530.7 274.4"/>
<text class="h" x="303.6" y="-16.8" text-anchor="middle">RIL</text>
<text class="t" x="1" y="485.5">0</text>
<text class="t" x="182.8" y="485.5">30</text>
<text class="t" x="361.1" y="485.5">60</text>
<text class="t" x="542.4" y="485.5">90</text>
<text class="l" x="301.3" y="540.5" text-anchor="middle">time (s)</text>
</g>
</svg></body></html>
